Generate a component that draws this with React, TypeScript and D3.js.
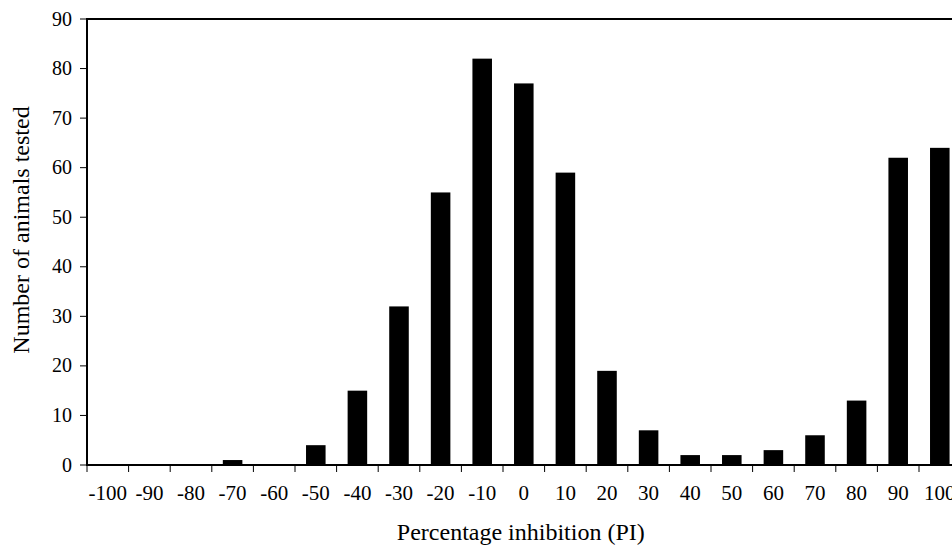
import React from "react";
import * as d3 from "d3";

const categories: string[] = ["-100","-90","-80","-70","-60","-50","-40","-30","-20","-10","0","10","20","30","40","50","60","70","80","90","100"];
const counts: number[] = [0,0,0,1,0,4,15,32,55,82,77,59,19,7,2,2,3,6,13,62,64];
const yTicks: number[] = [0,10,20,30,40,50,60,70,80,90];

const W = 952, H = 549;
const left = 87, top = 19, bottom = 465, right = 960.6;
const font = "Liberation Serif, Times New Roman, DejaVu Serif, serif";

export default function App() {
  const x = d3.scaleBand<string>().domain(categories).range([left, right]).paddingInner(0.53).paddingOuter(0.265);
  const y = d3.scaleLinear().domain([0, 90]).range([bottom, top]);
  const step = (right - left) / categories.length;
  const bounds = d3.range(categories.length + 1).map(i => left + i * step);
  const ts = { fontFamily: font };
  return (
    <svg width={W} height={H} style={{ position: "absolute", left: 0, top: 0, background: "#fff" }}>
      {categories.map((c, i) => (
        <rect key={c} x={x(c)} y={y(counts[i])} width={x.bandwidth()} height={bottom - y(counts[i])} fill="#000" />
      ))}
      <line x1={left} y1={top} x2={right} y2={top} stroke="#000" strokeWidth={2} />
      <line x1={right} y1={top} x2={right} y2={bottom} stroke="#000" strokeWidth={2} />
      <line x1={left} y1={top - 1} x2={left} y2={bottom + 1} stroke="#000" strokeWidth={2} />
      <line x1={left - 1} y1={bottom} x2={right} y2={bottom} stroke="#000" strokeWidth={2} />
      {yTicks.map(t => (
        <g key={t}>
          <line x1={left - 7} x2={left} y1={y(t)} y2={y(t)} stroke="#000" strokeWidth={1} />
          <text x={left - 15} y={y(t)} dy="0.33em" textAnchor="end" style={ts} fontSize={20} fill="#000">{t}</text>
        </g>
      ))}
      {bounds.map((b, i) => (
        <line key={i} x1={b} x2={b} y1={bottom} y2={bottom + 7} stroke="#000" strokeWidth={1} />
      ))}
      {categories.map(c => (
        <text key={c} x={(x(c) as number) + x.bandwidth() / 2} y={500} textAnchor="middle" style={ts} fontSize={21} fill="#000">{c}</text>
      ))}
      <text x={(left + right) / 2 - 3} y={540} textAnchor="middle" style={ts} fontSize={24} fill="#000">Percentage inhibition (PI)</text>
      <text transform={`translate(29,${(top + bottom) / 2 - 12}) rotate(-90)`} textAnchor="middle" style={ts} fontSize={24} fill="#000">Number of animals tested</text>
    </svg>
  );
}
